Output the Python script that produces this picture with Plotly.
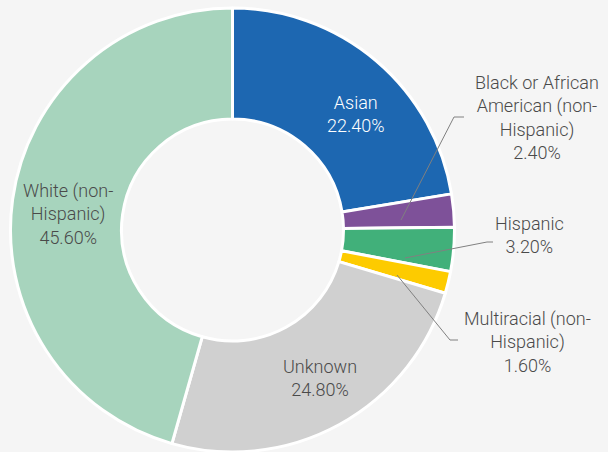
import plotly.graph_objects as go

categories = ["Asian", "Black or African American (non-Hispanic)", "Hispanic",
              "Multiracial (non-Hispanic)", "Unknown", "White (non-Hispanic)"]
values = [22.4, 2.4, 3.2, 1.6, 24.8, 45.6]
colors = ["#1d67b1", "#7e5199", "#41b07a", "#fdcb00", "#d0d0d0", "#a7d4bd"]

wrapped = {
    "Asian": "Asian",
    "Black or African American (non-Hispanic)": "Black or African<br>American (non-<br>Hispanic)",
    "Hispanic": "Hispanic",
    "Multiracial (non-Hispanic)": "Multiracial (non-<br>Hispanic)",
    "Unknown": "Unknown",
    "White (non-Hispanic)": "White (non-<br>Hispanic)",
}

W, H = 608, 452
# label block centers (pixels) and text colours
label_pos = {
    "Asian": (356, 114, "#ffffff"),
    "Black or African American (non-Hispanic)": (537, 117, "#4a4a4a"),
    "Hispanic": (529, 235, "#4a4a4a"),
    "Multiracial (non-Hispanic)": (527, 342, "#4a4a4a"),
    "Unknown": (320, 378, "#4a4a4a"),
    "White (non-Hispanic)": (68, 214, "#4a4a4a"),
}
leaders = [
    [(401, 220), (454, 117), (464, 117)],
    [(405, 258), (487, 242), (493, 242)],
    [(397, 275), (450, 340), (458, 340)],
]

cx, cy, r = 232.5, 230, 222
fig = go.Figure(go.Pie(
    labels=categories, values=values, hole=0.5, sort=False, direction="clockwise",
    marker=dict(colors=colors, line=dict(color="#ffffff", width=3)),
    textinfo="none", hoverinfo="label+percent", showlegend=False,
    domain=dict(x=[(cx - r) / W, (cx + r) / W], y=[max(0, 1 - (cy + r) / H), 1 - (cy - r) / H]),
))

anns = []
for cat, v in zip(categories, values):
    px, py, col = label_pos[cat]
    anns.append(dict(
        x=px / W, y=1 - py / H, xref="paper", yref="paper", showarrow=False,
        text=f"{wrapped[cat]}<br>{v:.2f}%", align="center",
        xanchor="center", yanchor="middle",
        font=dict(family="Roboto", size=18, color=col, weight=300),
    ))

shapes = []
for pts in leaders:
    for (x0, y0), (x1, y1) in zip(pts[:-1], pts[1:]):
        shapes.append(dict(type="line", xref="paper", yref="paper",
                           x0=x0 / W, y0=1 - y0 / H, x1=x1 / W, y1=1 - y1 / H,
                           line=dict(color="#808080", width=1)))

fig.update_layout(
    width=W, height=H, margin=dict(l=0, r=0, t=0, b=0),
    paper_bgcolor="#f5f5f5", plot_bgcolor="#f5f5f5",
    annotations=anns, shapes=shapes,
)
fig.write_html("out.html")
